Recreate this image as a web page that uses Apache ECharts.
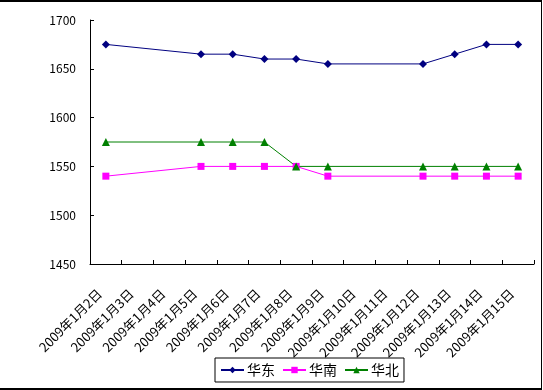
<!DOCTYPE html>
<html>
<head>
<meta charset="utf-8">
<script src="https://cdn.jsdelivr.net/npm/echarts@6/dist/echarts.min.js"></script>
<style>
html,body{margin:0;padding:0;background:#fff;}
#frame{position:absolute;left:0;top:0;width:541px;height:386px;border-top:2px solid #000;border-bottom:2px solid #000;border-right:1px solid #000;}
#chart{position:absolute;left:0;top:0;width:543px;height:390px;}
</style>
</head>
<body>
<div id="frame"></div>
<div id="chart"></div>
<script>
var categories = ['2009年1月2日','2009年1月3日','2009年1月4日','2009年1月5日','2009年1月6日','2009年1月7日','2009年1月8日','2009年1月9日','2009年1月10日','2009年1月11日','2009年1月12日','2009年1月13日','2009年1月14日','2009年1月15日'];
var huadong = [1675, null, null, 1665, 1665, 1660, 1660, 1655, null, null, 1655, 1665, 1675, 1675];
var huanan  = [1540, null, null, 1550, 1550, 1550, 1550, 1540, null, null, 1540, 1540, 1540, 1540];
var huabei  = [1575, null, null, 1575, 1575, 1575, 1550, 1550, null, null, 1550, 1550, 1550, 1550];
var seriesNames = ['华东', '华南', '华北'];

var font = "'Noto Sans CJK SC', 'DejaVu Sans', sans-serif";
var chart = echarts.init(document.getElementById('chart'));
function mk(name, data, color, symbol, size) {
  return {
    name: name, type: 'line', data: data, connectNulls: true,
    symbol: symbol, symbolSize: size, showSymbol: true,
    lineStyle: {color: color, width: 1},
    itemStyle: {color: color},
    emphasis: {disabled: true},
    animation: false
  };
}
chart.setOption({
  animation: false,
  textStyle: {fontFamily: font},
  grid: {left: 90, right: 9, top: 20, bottom: 126},
  legend: {
    data: seriesNames,
    left: 215, top: 358,
    orient: 'horizontal',
    itemWidth: 23, itemHeight: 8, itemGap: 7,
    padding: [5, 5, 5, 5],
    borderColor: '#000', borderWidth: 1, borderRadius: 0,
    backgroundColor: '#fff',
    textStyle: {fontFamily: font, fontSize: 14, color: '#000', padding: [0, 0, 0, -2]}
  },
  xAxis: {
    type: 'category', data: categories, boundaryGap: true,
    axisLine: {lineStyle: {color: '#000', width: 1}},
    axisTick: {show: true, inside: true, length: 4, alignWithLabel: false, lineStyle: {color: '#000'}},
    axisLabel: {rotate: 45, interval: 0, margin: 21, fontSize: 13, color: '#000', fontFamily: font, padding: [0, 9, 0, 0]},
    splitLine: {show: false}
  },
  yAxis: {
    type: 'value', min: 1450, max: 1700, interval: 50,
    axisLine: {show: true, lineStyle: {color: '#000', width: 1}},
    axisTick: {show: true, inside: true, length: 4, lineStyle: {color: '#000'}},
    axisLabel: {fontSize: 12, color: '#000', margin: 14, fontFamily: font, formatter: function (v) { return String(v); }},
    splitLine: {show: false}
  },
  series: [
    mk(seriesNames[0], huadong, '#000080', 'diamond', 8),
    mk(seriesNames[1], huanan, '#FF00FF', 'rect', 7),
    mk(seriesNames[2], huabei, '#008000', 'triangle', 8)
  ]
});
</script>
</body>
</html>
